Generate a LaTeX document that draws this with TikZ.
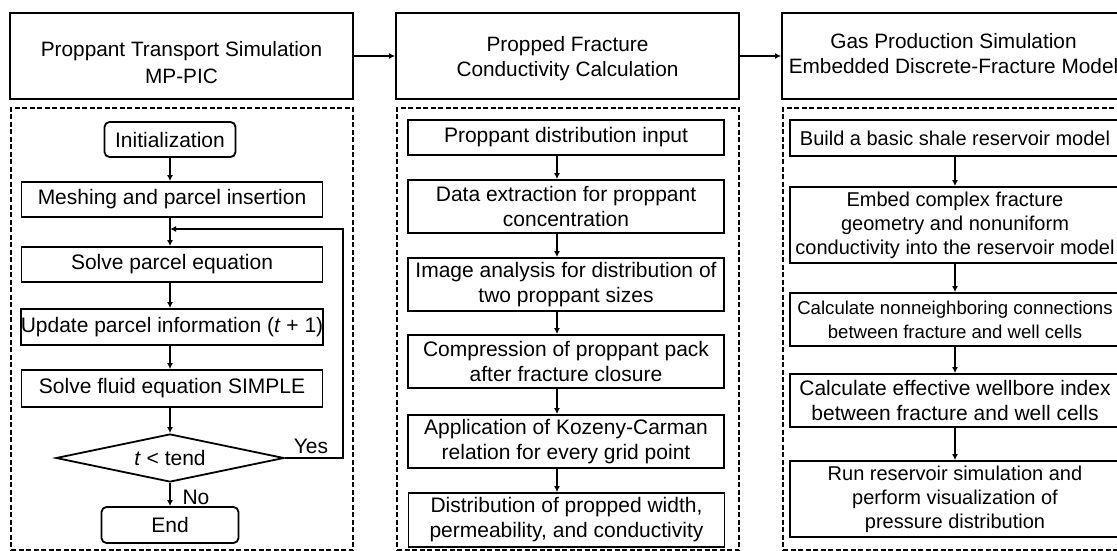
\documentclass[tikz,border=0pt]{standalone}
\usepackage{fontspec}
\setmainfont{Liberation Sans}
\usetikzlibrary{shapes.geometric,arrows.meta}
\begin{document}
\begin{tikzpicture}[x=1pt,y=-1pt,
  box/.style={draw,line width=1.8pt,inner sep=0pt,align=center,font=\fontsize{21}{25}\selectfont},
  rbox/.style={box,rounded corners=5pt},
  topbox/.style={draw,line width=1.8pt,inner sep=0pt,minimum width=343pt,minimum height=86pt},
  toptxt/.style={inner sep=0pt,align=center,font=\fontsize{20.8}{25}\selectfont},
  dbox/.style={draw,line width=1.3pt,dash pattern=on 5pt off 2.5pt,inner sep=0pt,minimum width=342pt,minimum height=442pt},
  dia/.style={draw,diamond,aspect=4.75,line width=1.8pt,inner sep=0pt,minimum width=228pt,minimum height=48pt,font=\fontsize{21}{25}\selectfont},
  lbl/.style={inner sep=0pt,font=\fontsize{21}{25}\selectfont},
  arr/.style={line width=1.6pt,-{Latex[length=6pt,width=6pt]}},
  c1/.style={box,minimum width=301pt},
  c2/.style={box,minimum width=316pt},
  c3/.style={box,minimum width=330pt,font=\fontsize{20}{24}\selectfont}]
\useasboundingbox (0,0) rectangle (1117,551);
\clip (0,0) rectangle (1117,551);

% top boxes
\node[topbox] (T1) at (181.5,56) {};
\node[topbox] (T2) at (567.5,56) {};
\node[topbox] (T3) at (953.5,56) {};
\node[toptxt,font=\fontsize{20.8}{27.5}\selectfont] (T1t) at (181.5,62.5) {Proppant Transport Simulation\\MP-PIC};
\node[toptxt] (T2t) at (567.5,59) {Propped Fracture\\Conductivity Calculation};
\node[toptxt] (T3t) at (953.5,54) {Gas Production Simulation\\Embedded Discrete-Fracture Model};
\draw[arr] (T1.east) -- (T2.west);
\draw[arr] (T2.east) -- (T3.west);

% dashed frames
\node[dbox] (F1) at (182,329) {};
\node[dbox] (F2) at (568,329) {};
\node[dbox] (F3) at (954,329) {};

% column 1
\node[rbox,minimum width=131pt,minimum height=35pt] (Init) at (170,139.5) {Initialization};
\node[c1,minimum height=35pt] (Mesh) at (172,199.5) {Meshing and parcel insertion};
\node[c1,minimum height=35pt] (SP) at (172,264.5) {Solve parcel equation};
\node[c1,minimum height=36pt] (UP) at (172,327) {Update parcel information (\textit{t} + 1)};
\node[c1,minimum height=37pt] (SF) at (172,388.5) {Solve fluid equation SIMPLE};
\node[dia] (D) at (170,458) {\textit{t} < tend};
\node[rbox,minimum width=137pt,minimum height=36pt] (End) at (170,525) {End};
\node[lbl] (yes) at (311,446) {Yes};
\node[lbl] (no) at (196,497) {No};
\coordinate (jn) at (170,229);
\coordinate (lp) at (343,229);

\draw[arr] (Init.south) -- (Init.south |- Mesh.north);
\draw[arr] (Init.south |- Mesh.south) -- (Init.south |- SP.north);
\draw[arr] (Init.south |- SP.south) -- (Init.south |- UP.north);
\draw[arr] (Init.south |- UP.south) -- (Init.south |- SF.north);
\draw[arr] (Init.south |- SF.south) -- (D.north);
\draw[arr] (D.south) -- (D.south |- End.north);
\draw[arr] (D.east) -| (lp) -- (jn);

% column 2
\node[c2,minimum height=35pt] (P1) at (566,137.5) {Proppant distribution input};
\node[c2,minimum height=53pt] (P2) at (566,206.5) {Data extraction for proppant\\concentration};
\node[c2,minimum height=53pt] (P3) at (566,284.5) {Image analysis for distribution of\\two proppant sizes};
\node[c2,minimum height=53pt] (P4) at (566,361.5) {Compression of proppant pack\\after fracture closure};
\node[c2,minimum height=53pt] (P5) at (566,441.5) {Application of Kozeny-Carman\\relation for every grid point};
\node[c2,minimum height=54pt] (P6) at (566.5,520) {Distribution of propped width,\\permeability, and conductivity};
\foreach \a/\b in {P1/P2,P2/P3,P3/P4,P4/P5,P5/P6}
  \draw[arr] ([xshift=-9pt]\a.south) -- ([xshift=-9pt]\a.south |- \b.north);

% column 3
\node[c3,minimum height=36pt] (G1) at (955,138) {Build a basic shale reservoir model};
\node[c3,minimum height=76pt] (G2) at (955,225) {Embed complex fracture\\geometry and nonuniform\\conductivity into the reservoir model};
\node[c3,minimum height=53pt,font=\fontsize{18.6}{24}\selectfont] (G3) at (955,319.5) {Calculate nonneighboring connections\\between fracture and well cells};
\node[c3,minimum height=53pt,font=\fontsize{21}{25}\selectfont] (G4) at (955,400.5) {Calculate effective wellbore index\\between fracture and well cells};
\node[c3,minimum height=76pt] (G5) at (955,499) {Run reservoir simulation and\\perform visualization of\\pressure distribution};
\foreach \a/\b in {G1/G2,G2/G3,G3/G4,G4/G5}
  \draw[arr] (\a.south) -- (\b.north);
\end{tikzpicture}
\end{document}
